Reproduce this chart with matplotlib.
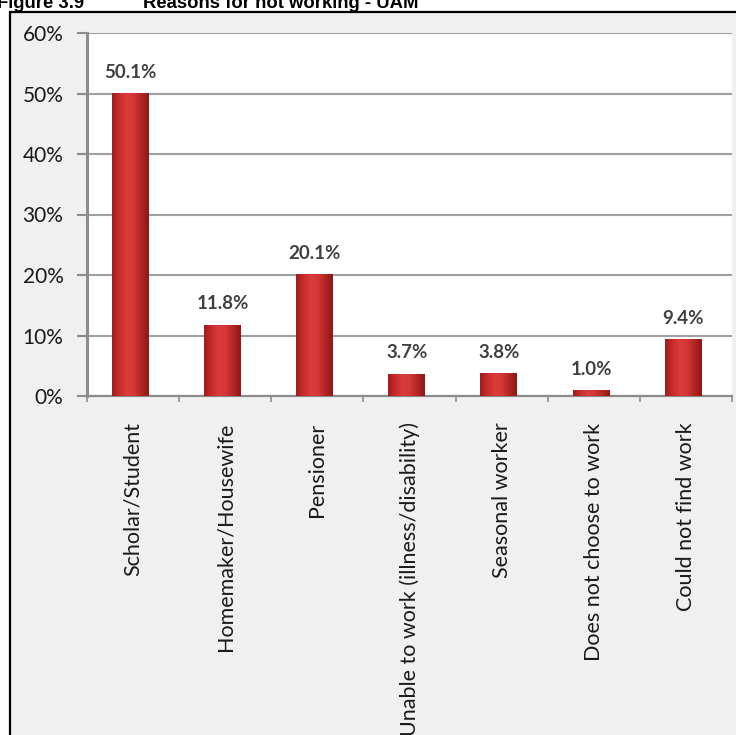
"""
Figure 3.9 - Reasons for not working (UAM)
"""

import numpy as np
import matplotlib
matplotlib.use('Agg')
import matplotlib.pyplot as plt
from matplotlib.colors import LinearSegmentedColormap
from matplotlib.patches import Rectangle
from matplotlib.ticker import FuncFormatter, FixedLocator

# ====== 数据 ======
categories = ['Scholar/Student', 'Homemaker/Housewife', 'Pensioner',
              'Unable to work (illness/disability)', 'Seasonal worker',
              'Does not choose to work', 'Could not find work']
shares = [50.1, 11.8, 20.1, 3.7, 3.8, 1.0, 9.4]
yticks = [0, 10, 20, 30, 40, 50, 60]

W, H = 736, 735
fig = plt.figure(figsize=(W / 100, H / 100), dpi=100, facecolor='white')

# 灰色底框 + 黑色边线
fig.patches.append(Rectangle((9.5 / W, -0.1), 1.2, (1 - 12 / H) + 0.1,
                             transform=fig.transFigure, facecolor='#f0f0f0',
                             edgecolor='black', linewidth=1.6, zorder=-10))

# 标题（上半部分被裁掉）
fig.text(-0.004, 1 - 8 / H, 'Figure 3.9', fontsize=13.3, fontweight='bold',
         family='Liberation Sans', va='baseline', ha='left')
fig.text(143 / W, 1 - 8 / H, 'Reasons for not working - UAM', fontsize=13.3,
         fontweight='bold', family='Liberation Sans', va='baseline', ha='left')

ax = fig.add_axes([87 / W, 1 - 396 / H, (732 - 87) / W, (396 - 33) / H])
ax.set_facecolor('white')

x = np.arange(len(categories))
bars = ax.bar(x - 0.03, shares, width=0.4, color='#c62c2c', zorder=3)

# 柱子渐变效果
cmap = LinearSegmentedColormap.from_list(
    'redbar', ['#a01c1c', '#c82c2c', '#da3c3c', '#d23636', '#b42424', '#8e1717'])
grad = np.linspace(0, 1, 64).reshape(1, -1)
for b in bars:
    x0, y0 = b.get_x(), b.get_y()
    im = ax.imshow(grad, cmap=cmap, aspect='auto', zorder=4,
                   extent=[x0, x0 + b.get_width(), y0, y0 + b.get_height()])
    im.set_clip_path(b)

# 数值标签
for xi, v in zip(x - 0.03, shares):
    ax.annotate(f'{v:.1f}%', (xi, v), xytext=(0, 15), textcoords='offset points',
                ha='center', va='center', fontsize=13.5, fontweight='bold',
                color='#404040', family='Lato', zorder=5)

ax.set_xlim(-0.5, len(categories) - 0.5)
ax.set_ylim(0, 60)
ax.set_yticks(yticks)
ax.yaxis.set_major_formatter(FuncFormatter(lambda v, p: f'{v:.0f}%'))
ax.grid(axis='y', color='#a0a0a0', linewidth=1.5, zorder=1)
ax.set_axisbelow(True)

ax.set_xticks(x)
ax.set_xticklabels(categories, rotation=90, fontsize=15.5, family='Lato',
                   color='#1a1a1a')
ax.xaxis.set_minor_locator(FixedLocator(np.arange(len(categories) + 1) - 0.5))
ax.tick_params(axis='x', which='major', length=0, pad=19)
ax.tick_params(axis='x', which='minor', length=4, width=1.2, color='#8c8c8c',
               direction='out')
ax.tick_params(axis='y', length=7, width=1.5, color='#8c8c8c', pad=10,
               labelsize=15, labelcolor='#1a1a1a')
for lab in ax.get_yticklabels():
    lab.set_family('Lato')

for side in ['top', 'right']:
    ax.spines[side].set_visible(False)
ax.spines['left'].set_color('#8c8c8c')
ax.spines['left'].set_linewidth(2.2)
ax.spines['bottom'].set_color('#8c8c8c')
ax.spines['bottom'].set_linewidth(1.6)

plt.savefig('out.png', dpi=100, facecolor='white')
